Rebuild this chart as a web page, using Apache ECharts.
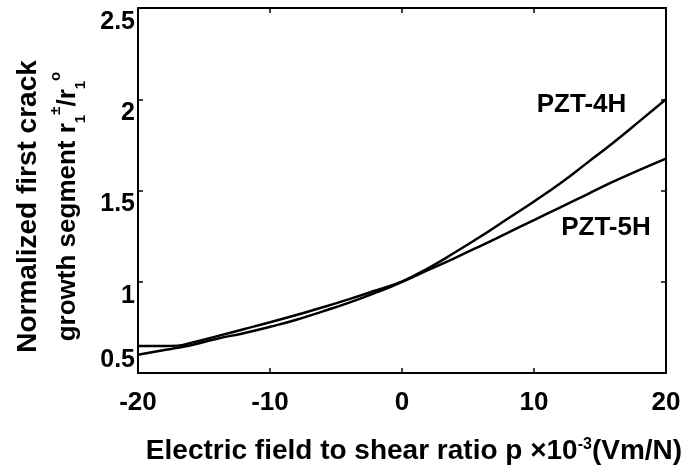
<!DOCTYPE html>
<html>
<head>
<meta charset="utf-8">
<script src="https://cdn.jsdelivr.net/npm/echarts@6/dist/echarts.min.js"></script>
<style>
  html, body { margin: 0; padding: 0; background: #fff; }
  #chart { width: 683px; height: 474px; }
</style>
</head>
<body>
<div id="chart"></div>
<script>
// 电场/剪切比 p (x10^-3 Vm/N)
var pValues = [-20, -18, -17, -16, -14, -12, -10, -8, -6, -4, -2, 0, 2, 4, 6, 8, 10, 12, 14, 16, 18, 20];
// 归一化首段裂纹扩展 r1/r1°
var pzt4h = [0.600, 0.626, 0.638, 0.652, 0.688, 0.718, 0.753, 0.792, 0.838, 0.886, 0.940, 1.000, 1.075, 1.160, 1.250, 1.345, 1.440, 1.540, 1.650, 1.762, 1.880, 2.000];
var pzt5h = [0.648, 0.648, 0.650, 0.665, 0.702, 0.740, 0.778, 0.818, 0.860, 0.905, 0.952, 1.000, 1.065, 1.130, 1.198, 1.268, 1.338, 1.408, 1.478, 1.548, 1.613, 1.675];
var xTicks = { min: -20, max: 20, step: 10 };
var yTicks = { min: 0.5, max: 2.5, step: 0.5 };

function pairs(ys) {
  return pValues.map(function (p, i) { return [p, ys[i]]; });
}

var chart = echarts.init(document.getElementById('chart'));
var font = 'Liberation Sans, Arial, Helvetica, sans-serif';
var axisLine = { show: true, onZero: false, lineStyle: { color: '#000', width: 2 } };
var tick = { show: true, inside: true, length: 5, lineStyle: { color: '#000', width: 1.5 } };

// 标注文字 (PZT-4H / PZT-5H)
function tag(text, coord) {
  return {
    symbol: 'circle',
    symbolSize: 1,
    itemStyle: { color: 'rgba(0,0,0,0)' },
    label: { show: true, position: 'inside', formatter: text, color: '#000', fontSize: 26, fontWeight: 'bold', fontFamily: font },
    data: [{ coord: coord }]
  };
}

var option = {
  animation: false,
  backgroundColor: '#fff',
  grid: { left: 138, right: 17, top: 8, bottom: 101, outerBoundsMode: 'none' },
  xAxis: [
    {
      type: 'value',
      min: xTicks.min, max: xTicks.max, interval: xTicks.step,
      axisLine: axisLine,
      axisTick: tick,
      splitLine: { show: false },
      axisLabel: { color: '#000', fontSize: 26, fontWeight: 'bold', fontFamily: font, margin: 17 },
      name: 'Electric field to shear ratio p \u00d710{sup|-3}(Vm/N)',
      nameLocation: 'middle',
      nameGap: 64,
      nameTextStyle: {
        color: '#000', fontSize: 28, fontWeight: 'bold', fontFamily: font, padding: [0, 0, 0, 24],
        rich: { sup: { fontSize: 16, fontWeight: 'bold', fontFamily: font, color: '#000', verticalAlign: 'top', padding: [0, 0, 12, 0] } }
      }
    },
    {
      type: 'value', position: 'top',
      min: xTicks.min, max: xTicks.max, interval: xTicks.step,
      axisLine: axisLine, axisTick: tick, axisLabel: { show: false }, splitLine: { show: false }
    }
  ],
  yAxis: [
    {
      type: 'value',
      min: yTicks.min, max: yTicks.max, interval: yTicks.step,
      axisLine: axisLine,
      axisTick: tick,
      splitLine: { show: false },
      axisLabel: {
        color: '#000', fontSize: 25, fontWeight: 'bold', fontFamily: font, margin: 3,
        formatter: function (v) { return v === yTicks.min ? '{lo|' + v + '}' : '{hi|' + v + '}'; },
        rich: {
          hi: { fontSize: 25, fontWeight: 'bold', fontFamily: font, color: '#000', padding: [28, 0, 0, 0] },
          lo: { fontSize: 25, fontWeight: 'bold', fontFamily: font, color: '#000', padding: [0, 0, 26, 0] }
        }
      },
      name: 'Normalized first crack\n{g|growth segment r}{sub|1}{sup|\u00b1}{g|/r}{sub|1}{sup|o}',
      nameLocation: 'middle',
      nameGap: 50,
      nameRotate: 90,
      nameTextStyle: {
        color: '#000', fontSize: 28, fontWeight: 'bold', fontFamily: font, lineHeight: 40, padding: [0, 32, 0, 0],
        rich: {
          g: { fontSize: 26, fontWeight: 'bold', fontFamily: font, color: '#000', lineHeight: 40 },
          sub: { fontSize: 15, fontWeight: 'bold', fontFamily: font, color: '#000', verticalAlign: 'bottom', lineHeight: 40, padding: [10, 0, 0, 0] },
          sup: { fontSize: 15, fontWeight: 'bold', fontFamily: font, color: '#000', verticalAlign: 'top', lineHeight: 40, padding: [0, 0, 10, 0] }
        }
      }
    },
    {
      type: 'value', position: 'right',
      min: yTicks.min, max: yTicks.max, interval: yTicks.step,
      axisLine: axisLine, axisTick: tick, axisLabel: { show: false }, splitLine: { show: false }
    }
  ],
  series: [
    {
      name: 'PZT-4H',
      type: 'line',
      data: pairs(pzt4h),
      symbol: 'none',
      smooth: true,
      lineStyle: { color: '#000', width: 2.5 },
      markPoint: tag('PZT-4H', [13.6, 1.97])
    },
    {
      name: 'PZT-5H',
      type: 'line',
      data: pairs(pzt5h),
      symbol: 'none',
      smooth: true,
      lineStyle: { color: '#000', width: 2.5 },
      markPoint: tag('PZT-5H', [15.45, 1.297])
    }
  ]
};
chart.setOption(option);
</script>
</body>
</html>
